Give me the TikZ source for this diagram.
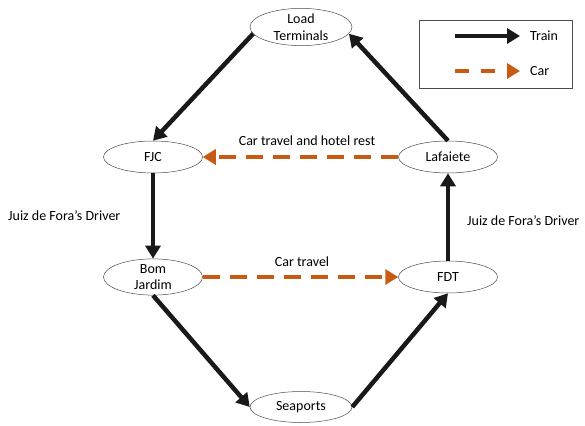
\documentclass[tikz,border=0pt]{standalone}
\usepackage{fontspec}
\setmainfont{Carlito}
\usetikzlibrary{shapes.geometric,arrows.meta}
\begin{document}
\begin{tikzpicture}[x=1pt,y=-1pt,
  every node/.style={font=\fontsize{14}{15}\selectfont},
  place/.style={ellipse,draw=black!70,line width=0.5pt,minimum width=99pt,minimum height=32pt,inner sep=0pt,align=center},
  train/.style={line width=4.5pt,color=black!90,-{Triangle[length=13pt,width=15pt]}},
  car/.style={line width=4.5pt,dash pattern=on 17pt off 10pt,-{Triangle[length=13pt,width=15pt]}},
  lbl/.style={inner sep=0pt}]
\useasboundingbox (0,0) rectangle (585,425);
\definecolor{carc}{RGB}{200,90,20}
\tikzset{car/.append style={color=carc}}
\node[place,minimum width=102pt,minimum height=34pt] (lt) at (301,27) {Load\\[1.5pt]Terminals};
\node[place] (fjc) at (153,157) {FJC};
\node[place] (laf) at (448,157) {Lafaiete};
\node[place,minimum height=35pt] (bj) at (153,277) {Bom\\[1.5pt]Jardim};
\node[place] (fdt) at (448,277) {FDT};
\node[place,minimum width=102pt,minimum height=31pt] (sea) at (301,407) {Seaports};
\draw[train] (lt.188) -- (fjc.north);
\draw[train] (laf.north) -- (lt.-8);
\draw[train] (fjc.south) -- (bj.north);
\draw[train] (fdt.north) -- (laf.south);
\draw[train] (bj.south) -- (sea.west);
\draw[train] (sea.east) -- (fdt.south);
\draw[car] (laf.west) -- (fjc.east);
\draw[car] (bj.east) -- (fdt.west);
\node[lbl] (t1) at (307,141) {Car travel and hotel rest};
\node[lbl] (t2) at (302,262) {Car travel};
\node[lbl,anchor=west] (t3) at (8,216) {Juiz de Fora’s Driver};
\node[lbl,anchor=west] (t4) at (467,221) {Juiz de Fora’s Driver};
\node[draw=black!70,line width=0.5pt,minimum width=153pt,minimum height=68pt,inner sep=0pt] (leg) at (495.5,54) {};
\coordinate (a1) at (455,36);
\coordinate (a2) at (520,36);
\coordinate (b1) at (455,71);
\coordinate (b2) at (520,71);
\draw[train] (a1) -- (a2);
\draw[car,dash pattern=on 14pt off 12pt] (b1) -- (b2);
\node[lbl,anchor=west] (lt1) at (530,36) {Train};
\node[lbl,anchor=west] (lt2) at (530,71) {Car};
\end{tikzpicture}
\end{document}
